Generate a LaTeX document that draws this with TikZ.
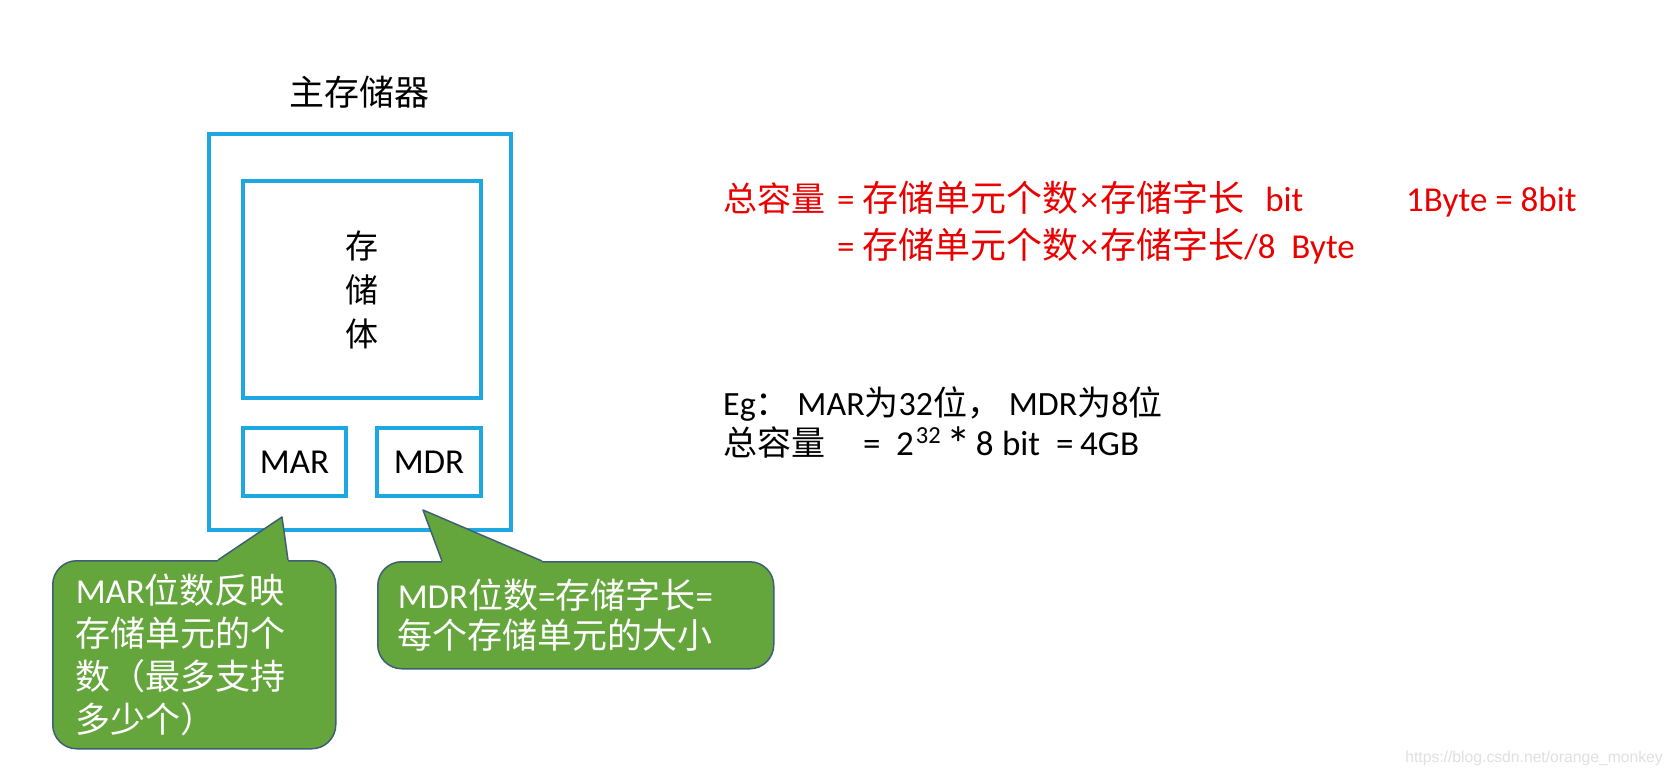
\documentclass[tikz,border=0pt]{standalone}
\usepackage{fontspec}
\setmainfont{Carlito}
\newfontfamily\cjk{Noto Sans CJK SC}
\newfontfamily\wmfont{Liberation Sans}
\definecolor{boxblue}{RGB}{30,168,226}
\definecolor{callgreen}{RGB}{100,165,60}
\definecolor{calledge}{RGB}{62,95,118}
\definecolor{redtxt}{RGB}{235,0,0}
\newcommand{\zh}[1]{{\cjk #1}}
\newcommand{\zhr}[1]{{\cjk\fontsize{36}{40}\selectfont #1}}
\newcommand{\xx}{\makebox[0.62em]{×}}
\tikzset{
  bluebox/.style={draw=boxblue, line width=4pt, inner sep=0pt},
  callbox/.style={draw=calledge, fill=callgreen, line width=1.5pt, rounded corners=24pt,
    text=white, align=left, inner ysep=0pt, anchor=north west},
  ptrfill/.style={fill=callgreen},
  ptredge/.style={draw=calledge, line width=1.5pt, line join=round},
  redtext/.style={text=redtxt, inner sep=0pt, anchor=base west, font=\fontsize{35}{40}\selectfont},
  blktext/.style={text=black, inner sep=0pt, anchor=base west, font=\fontsize{34}{40}\selectfont},
}
\begin{document}
\begin{tikzpicture}[x=1pt,y=-1pt]
\useasboundingbox (0,0) rectangle (1674,776);
\fill[white] (0,0) rectangle (1674,776);

% main memory
\node[font=\fontsize{35}{40}\selectfont\cjk, inner sep=0pt] (title) at (359,92) {主存储器};
\node[bluebox, minimum width=302pt, minimum height=396pt] (outer) at (360,332) {};
\node[bluebox, minimum width=238pt, minimum height=217pt, align=center,
      font=\fontsize{33}{44}\selectfont\cjk] (body) at (362,289.5) {存\\储\\体};
\node[bluebox, minimum width=103pt, minimum height=68pt, font=\fontsize{35}{40}\selectfont] (mar) at (294.5,462) {MAR};
\node[bluebox, minimum width=104pt, minimum height=68pt, font=\fontsize{35}{40}\selectfont] (mdr) at (429,462) {MDR};

% left callout
\node[callbox, minimum height=188pt, text width=237pt, inner xsep=23pt,
      font=\fontsize{35}{43}\selectfont] (c1) at (52,560)
  {MAR\zh{位数反映}\\\zh{存储单元的个}\\\zh{数（最多支持}\\\zh{多少个）}};
\coordinate (p1) at (282,517);
\fill[ptrfill] (218,560) -- (p1) -- (288,560) -- (288,562.5) -- (218,562.5) -- cycle;
\draw[ptredge] (218,560) -- (p1) -- (288,560);

% right callout
\node[callbox, minimum height=107pt, text width=356pt, inner xsep=20pt,
      font=\fontsize{35}{40}\selectfont] (c2) at (377,561)
  {MDR\zh{位数}=\zh{存储字长}=\\\zh{每个存储单元的大小}};
\coordinate (p2) at (423,510);
\fill[ptrfill] (442,561) -- (p2) -- (542,561) -- (542,563.5) -- (442,563.5) -- cycle;
\draw[ptredge] (442,561) -- (p2) -- (542,561);

% red formula
\node[redtext, font=\fontsize{34}{40}\selectfont] (r1a) at (723,211) {\zh{总容量}};
\node[redtext] (r1b) at (837,211) {= \zhr{存储单元个数}\xx\zhr{存储字长}\hspace{21pt}bit};
\node[redtext] (r1c) at (1406,211) {1Byte = 8bit};
\node[redtext] (r2) at (837,258) {= \zhr{存储单元个数}\xx\zhr{存储字长}/8\ \ Byte};

% example
\node[blktext] (e1) at (723,415) {Eg\zh{：}\ MAR\zh{为}32\zh{位，}\ MDR\zh{为}8\zh{位}};
\node[blktext] (e2a) at (723,455) {\zh{总容量}};
\node[blktext, font=\fontsize{35}{40}\selectfont] (e2b) at (863,455)
  {=\hspace{15.6pt}2\hspace{2pt}\raisebox{12pt}{\scalebox{0.7}{32}}\hspace{6pt}\raisebox{-6pt}{\scalebox{1.4}{*}}\hspace{4.6pt}8\hspace{8.5pt}bit\hspace{16pt}=\hspace{6.6pt}4GB};

% watermark
\node[font=\fontsize{15.7}{18}\selectfont\wmfont, text=black!12, anchor=east, inner sep=0pt] (wm) at (1663,758) {https://blog.csdn.net/orange\_monkey};
\end{tikzpicture}
\end{document}
